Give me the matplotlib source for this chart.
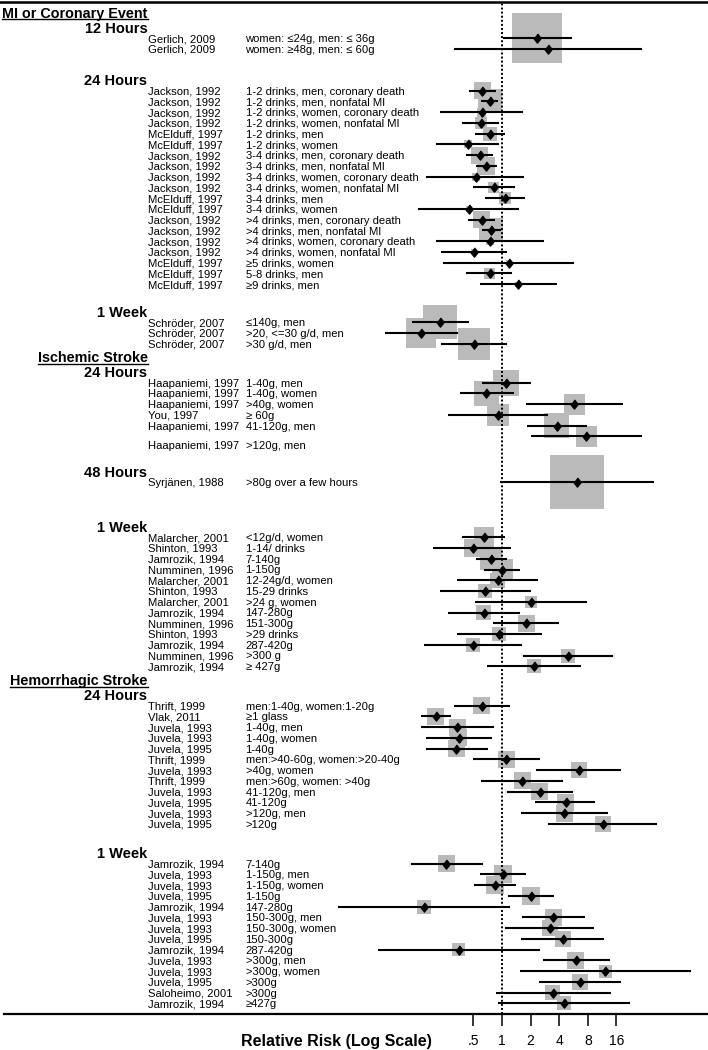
import matplotlib
matplotlib.use("Agg")
import matplotlib.pyplot as plt
import numpy as np
from matplotlib import transforms
from matplotlib.lines import Line2D

plt.rcParams['font.family'] = ['Liberation Sans', 'DejaVu Sans']

# ---- data ----
outcomes = ["MI or Coronary Event", "Ischemic Stroke", "Hemorrhagic Stroke"]
windows = ["12 Hours", "24 Hours", "1 Week", "24 Hours", "48 Hours", "1 Week", "24 Hours", "1 Week"]
window_outcome = [0, 0, 0, 1, 1, 1, 2, 2]
group_sizes = [2, 19, 3, 6, 1, 13, 12, 14]

studies = [
    # MI, 12 hours
    "Gerlich, 2009", "Gerlich, 2009",
    # MI, 24 hours
    "Jackson, 1992", "Jackson, 1992", "Jackson, 1992", "Jackson, 1992", "McElduff, 1997", "McElduff, 1997",
    "Jackson, 1992", "Jackson, 1992", "Jackson, 1992", "Jackson, 1992", "McElduff, 1997", "McElduff, 1997",
    "Jackson, 1992", "Jackson, 1992", "Jackson, 1992", "Jackson, 1992", "McElduff, 1997", "McElduff, 1997",
    "McElduff, 1997",
    # MI, 1 week
    "Schröder, 2007", "Schröder, 2007", "Schröder, 2007",
    # ischemic, 24 hours
    "Haapaniemi, 1997", "Haapaniemi, 1997", "Haapaniemi, 1997", "You, 1997", "Haapaniemi, 1997",
    "Haapaniemi, 1997",
    # ischemic, 48 hours
    "Syrjänen, 1988",
    # ischemic, 1 week
    "Malarcher, 2001", "Shinton, 1993", "Jamrozik, 1994", "Numminen, 1996", "Malarcher, 2001",
    "Shinton, 1993", "Malarcher, 2001", "Jamrozik, 1994", "Numminen, 1996", "Shinton, 1993",
    "Jamrozik, 1994", "Numminen, 1996", "Jamrozik, 1994",
    # hemorrhagic, 24 hours
    "Thrift, 1999", "Vlak, 2011", "Juvela, 1993", "Juvela, 1993", "Juvela, 1995", "Thrift, 1999",
    "Juvela, 1993", "Thrift, 1999", "Juvela, 1993", "Juvela, 1995", "Juvela, 1993", "Juvela, 1995",
    # hemorrhagic, 1 week
    "Jamrozik, 1994", "Juvela, 1993", "Juvela, 1993", "Juvela, 1995", "Jamrozik, 1994", "Juvela, 1993",
    "Juvela, 1993", "Juvela, 1995", "Jamrozik, 1994", "Juvela, 1993", "Juvela, 1993", "Juvela, 1995",
    "Saloheimo, 2001", "Jamrozik, 1994",
]

doses = [
    "women: ≤24g, men: ≤ 36g", "women: ≥48g, men: ≤ 60g",
    "1-2 drinks, men, coronary death", "1-2 drinks, men, nonfatal MI",
    "1-2 drinks, women, coronary death", "1-2 drinks, women, nonfatal MI",
    "1-2 drinks, men", "1-2 drinks, women",
    "3-4 drinks, men, coronary death", "3-4 drinks, men, nonfatal MI",
    "3-4 drinks, women, coronary death", "3-4 drinks, women, nonfatal MI",
    "3-4 drinks, men", "3-4 drinks, women",
    ">4 drinks, men, coronary death", ">4 drinks, men, nonfatal MI",
    ">4 drinks, women, coronary death", ">4 drinks, women, nonfatal MI",
    "≥5 drinks, women", "5-8 drinks, men", "≥9 drinks, men",
    "≤140g, men", ">20, <=30 g/d, men", ">30 g/d, men",
    "1-40g, men", "1-40g, women", ">40g, women", "≥ 60g", "41-120g, men", ">120g, men",
    ">80g over a few hours",
    "<12g/d, women", "1-14/ drinks", "7-140g", "1-150g", "12-24g/d, women", "15-29 drinks",
    ">24 g, women", "147-280g", "151-300g", ">29 drinks", "287-420g", ">300 g", "≥ 427g",
    "men:1-40g, women:1-20g", "≥1 glass", "1-40g, men", "1-40g, women", "1-40g",
    "men:>40-60g, women:>20-40g", ">40g, women", "men:>60g, women: >40g",
    "41-120g, men", "41-120g", ">120g, men", ">120g",
    "7-140g", "1-150g, men", "1-150g, women", "1-150g", "147-280g", "150-300g, men",
    "150-300g, women", "150-300g", "287-420g", ">300g, men", ">300g, women", ">300g",
    ">300g", "≥427g",
]

rr = [
    2.34, 3.07,
    0.62, 0.74, 0.61, 0.60, 0.75, 0.44, 0.58, 0.68, 0.53, 0.82, 1.08, 0.45,
    0.61, 0.77, 0.74, 0.51, 1.18, 0.74, 1.47,
    0.224, 0.141, 0.507,
    1.10, 0.68, 5.73, 0.91, 3.79, 7.71,
    6.11,
    0.64, 0.50, 0.77, 1.00, 0.90, 0.67, 2.02, 0.64, 1.79, 0.94, 0.50, 4.99, 2.19,
    0.61, 0.20, 0.34, 0.35, 0.33, 1.11, 6.42, 1.64, 2.51, 4.68, 4.53, 11.5,
    0.26, 1.02, 0.84, 2.02, 0.15, 3.47, 3.18, 4.35, 0.35, 6.01, 12.2, 6.62, 3.44, 4.53,
]
ci_low = [
    1.02, 0.31,
    0.45, 0.60, 0.22, 0.38, 0.52, 0.20, 0.42, 0.53, 0.16, 0.49, 0.67, 0.13,
    0.44, 0.62, 0.20, 0.23, 0.24, 0.42, 0.58,
    0.112, 0.059, 0.228,
    0.61, 0.36, 1.78, 0.27, 1.85, 2.00,
    0.95,
    0.38, 0.19, 0.53, 0.64, 0.34, 0.22, 0.52, 0.27, 0.81, 0.34, 0.15, 1.68, 0.70,
    0.31, 0.14, 0.14, 0.16, 0.16, 0.50, 2.30, 0.60, 1.12, 2.24, 1.58, 3.05,
    0.11, 0.59, 0.51, 1.16, 0.019, 1.62, 1.08, 1.58, 0.05, 2.70, 1.55, 2.47, 0.86, 0.91,
]
ci_high = [
    5.42, 29.8,
    0.86, 0.91, 1.65, 0.94, 1.08, 0.94, 0.80, 0.88, 1.71, 1.38, 1.75, 1.51,
    0.84, 0.97, 2.77, 1.14, 5.68, 1.27, 3.77,
    0.45, 0.344, 1.13,
    2.00, 1.34, 18.8, 3.07, 7.79, 29.8,
    39.8,
    1.08, 1.25, 1.13, 1.56, 2.41, 2.00, 7.85, 1.55, 3.98, 2.64, 1.64, 14.8, 6.74,
    1.21, 0.29, 0.83, 0.79, 0.71, 2.51, 18.0, 4.42, 5.55, 9.53, 13.1, 42.8,
    0.63, 1.78, 1.40, 3.55, 1.21, 7.47, 9.37, 11.9, 2.51, 13.7, 98.3, 17.9, 13.9, 22.3,
]
# relative study weight (drawn as the side of the grey square)
weight = [
    50, 20,
    17, 24, 9, 12, 14, 8, 17, 18, 8, 11, 12, 6, 17, 24, 8, 6, 5, 11, 5,
    34, 30, 32,
    26, 25, 21, 22, 25, 21,
    54,
    20, 18, 22, 21, 15, 14, 12, 15, 17, 14, 14, 14, 14,
    17, 17, 17, 17, 17, 17, 16, 17, 17, 17, 17, 16,
    17, 18, 18, 18, 14, 17, 16, 16, 13, 17, 13, 16, 15, 14,
]

ticks = [0.5, 1, 2, 4, 8, 16]
tick_labels = [".5", "1", "2", "4", "8", "16"]

# ---- layout (pixels of the 708x1050 canvas) ----
W, H = 708, 1050
ROW = 10.75
group_top = [3.56, 8.44, 29.98, 35.6, 44.87, 49.98, 65.65, 80.34]
label_nudge = {29: 0.8}
X_ONE, DOUBLE = 502, 28.6
AX_LEFT, AX_TOP, AX_BOTTOM = 4, 1.5, 1013.5

row_y = []
for g, n in enumerate(group_sizes):
    row_y += [group_top[g] + i for i in range(n)]
row_y = np.array(row_y)

fig = plt.figure(figsize=(W / 100, H / 100), dpi=100)
ax = fig.add_axes([AX_LEFT / W, 1 - AX_BOTTOM / H, 1 - AX_LEFT / W, (AX_BOTTOM - AX_TOP) / H])
ax.set_xscale("log")
ax.set_xlim(2 ** ((AX_LEFT - X_ONE) / DOUBLE), 2 ** ((W - X_ONE) / DOUBLE))
ax.set_ylim(AX_BOTTOM / ROW, AX_TOP / ROW)

sq = (np.array(weight) * 0.72) ** 2
ax.scatter(rr, row_y, s=sq, marker="s", color="#bababa", linewidths=0, zorder=1)
ax.axvline(1, color="black", lw=1.4, ls=(0, (1, 1.1)), zorder=1.5)
ax.hlines(row_y, ci_low, ci_high, color="black", lw=1.5, zorder=2)
diamond = [(0, 1), (0.8, 0), (0, -1), (-0.8, 0)]
ax.plot(rr, row_y, ls="none", marker=diamond, ms=6.6, color="black", zorder=3)

for s in ["left", "right", "top"]:
    ax.spines[s].set_visible(False)
ax.spines["bottom"].set_linewidth(1.6)
fig.add_artist(Line2D([0, 1], [1 - AX_TOP / H] * 2, color="black", lw=1.8))
ax.set_yticks([])
ax.set_xticks(ticks)
ax.set_xticklabels(tick_labels, fontsize=10)
ax.minorticks_off()
ax.tick_params(axis="x", length=8.5, width=1.1, pad=6)

trans = transforms.blended_transform_factory(fig.transFigure, ax.transData)

for i in range(len(studies)):
    y = row_y[i] + label_nudge.get(i, 0) + 0.08
    ax.text(147.5 / W, y, studies[i], transform=trans, fontsize=8.15, va="center", ha="left")
    ax.text(245.5 / W, y, doses[i], transform=trans, fontsize=8.15, va="center", ha="left")

headers = []
prev_outcome = -1
for g, name in enumerate(windows):
    hy = group_top[g] - 0.86
    ax.text(147.5 / W, hy, name, transform=trans, fontsize=10.5, fontweight="bold",
            va="center", ha="right")
    if window_outcome[g] != prev_outcome:
        prev_outcome = window_outcome[g]
        oy = hy - 1.4
        t = ax.text(147.5 / W, oy, outcomes[prev_outcome], transform=trans, fontsize=10.4,
                    fontweight="bold", va="center", ha="right")
        headers.append((t, oy))

# underline the outcome headers
fig.canvas.draw()
r = fig.canvas.get_renderer()
for t, oy in headers:
    bb = t.get_window_extent(r).transformed(fig.transFigure.inverted())
    fig.add_artist(Line2D([max(bb.x0, 0), bb.x1], [oy + 0.48, oy + 0.48], transform=trans,
                          color="black", lw=1.0))

fig.text(336 / W, 1 - 1041.5 / H, "Relative Risk (Log Scale)", fontsize=11.5,
         fontweight="bold", ha="center", va="center")

fig.savefig("out.png", dpi=100)
